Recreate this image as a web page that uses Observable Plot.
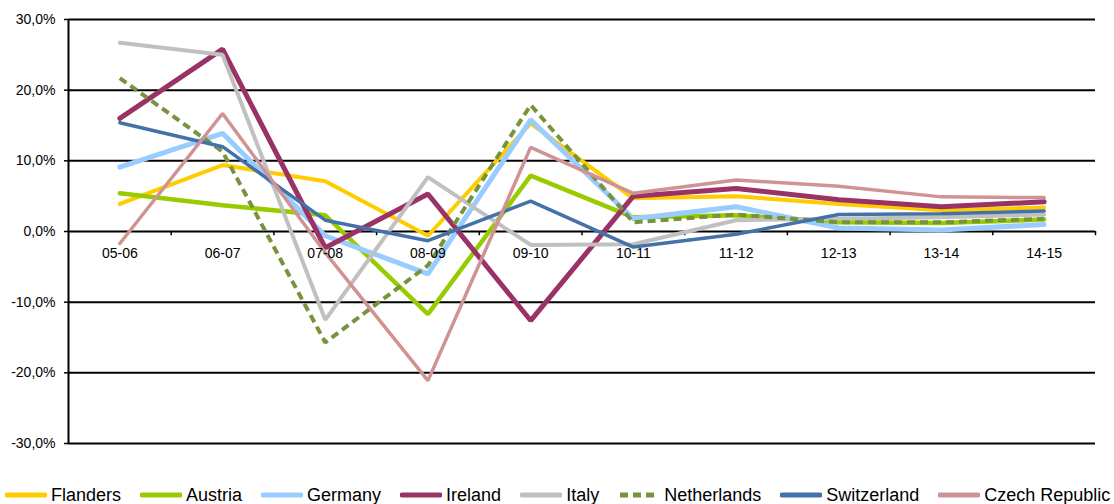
<!DOCTYPE html>
<html><head><meta charset="utf-8">
<script src="https://cdn.jsdelivr.net/npm/d3@7"></script>
<script src="https://cdn.jsdelivr.net/npm/@observablehq/plot@0.6"></script>
<style>
body{margin:0;background:#fff;font-family:Arial,"Liberation Sans",sans-serif;}
#chart{position:relative;width:1114px;height:504px;overflow:hidden;background:#fff;}
#chart svg text{font-size:14px;font-family:Arial,"Liberation Sans",sans-serif;}
#legend{position:absolute;left:5px;top:485px;display:flex;align-items:center;font-size:18px;line-height:20px;white-space:nowrap;color:#000;}
.item{display:flex;align-items:center;margin-right:19px;}
.item svg{margin-right:4px;display:block;}
</style></head><body><div id="chart"></div>
<script>
const categories = ["05-06","06-07","07-08","08-09","09-10","10-11","11-12","12-13","13-14","14-15"];
const yTicks = [-30,-20,-10,0,10,20,30];
const seriesNames = ["Flanders","Austria","Germany","Ireland","Italy","Netherlands","Switzerland","Czech Republic"];
const flanders    = [3.9, 9.4, 7.1, -0.6, 15.3, 4.7, 5.0, 3.9, 3.0, 3.4];
const austria     = [5.4, 3.7, 2.3, -11.7, 7.9, 2.0, 2.3, 1.3, 1.2, 1.7];
const germany     = [9.1, 13.9, -0.6, -6.0, 15.8, 1.8, 3.5, 0.5, 0.2, 1.0];
const ireland     = [16.0, 25.8, -2.3, 5.3, -12.6, 5.0, 6.1, 4.5, 3.5, 4.2];
const italy       = [26.7, 25.0, -12.5, 7.7, -1.9, -1.8, 1.6, 1.8, 2.0, 2.4];
const netherlands = [21.7, 11.3, -15.7, -4.8, 17.9, 1.3, 2.4, 1.3, 1.3, 1.8];
const switzerland = [15.4, 12.0, 1.6, -1.3, 4.3, -2.2, -0.4, 2.4, 2.5, 2.9];
const czech       = [-1.7, 16.7, -3.0, -21.1, 11.9, 5.4, 7.3, 6.4, 4.9, 4.8];

const seriesValues = [flanders, austria, germany, ireland, italy, netherlands, switzerland, czech];
const styles = [
  {stroke:"#FFCC00", width:4},
  {stroke:"#99CC00", width:4.5},
  {stroke:"#99CCFF", width:5},
  {stroke:"#993366", width:5},
  {stroke:"#C0C0C0", width:4},
  {stroke:"#77933C", width:4, dash:"8,5"},
  {stroke:"#4472A8", width:3.5},
  {stroke:"#D09393", width:3.5}
];

const W = 1114, H = 484, ML = 68, MR = 19, MT = 19, MB = H - 443;
const step = (W - ML - MR) / categories.length;
const fmt = d => d.toFixed(1).replace(".", ",") + "%";

const lineMarks = seriesValues.map((vals, k) => Plot.line(vals, {
  x: (d, i) => categories[i],
  y: d => d,
  stroke: styles[k].stroke,
  strokeWidth: styles[k].width,
  strokeDasharray: styles[k].dash,
  strokeLinecap: styles[k].dash ? "butt" : "round",
  strokeLinejoin: "miter"
}));

const chart = Plot.plot({
  width: W, height: H,
  marginLeft: ML, marginRight: MR, marginTop: MT, marginBottom: MB,
  style: {fontFamily: 'Arial, "Liberation Sans", sans-serif', fontSize: "14px", color: "#000", background: "#fff"},
  x: {type: "point", domain: categories, padding: 0.5, round: false, axis: null},
  y: {domain: [-30, 30], axis: null},
  marks: [
    Plot.ruleY(yTicks, {stroke: "#000", strokeWidth: 2}),
    Plot.ruleX([categories[0]], {dx: -step / 2, stroke: "#000", strokeWidth: 2}),
    Plot.ruleX(categories, {x: d => d, dx: step / 2, y1: 0, y2: -0.6, stroke: "#000", strokeWidth: 1.5}),
    Plot.axisY({ticks: yTicks, tickSize: 4, tickPadding: 9, tickFormat: fmt, fontSize: 14, strokeWidth: 1.5}),
    ...lineMarks,
    Plot.text(categories, {x: d => d, y: 0, dy: 22, fontSize: 14, fill: "#000"})
  ]
});

const root = document.getElementById("chart");
root.appendChild(chart);

const legend = document.createElement("div");
legend.id = "legend";
seriesNames.forEach((name, k) => {
  const item = document.createElement("div");
  item.className = "item";
  const s = styles[k];
  item.innerHTML = `<svg width="42" height="8"><line x1="2" y1="4" x2="40" y2="4" stroke="${s.stroke}" stroke-width="5" stroke-linecap="${s.dash ? "butt" : "round"}" ${s.dash ? `stroke-dasharray="8,5"` : ""}/></svg><span>${name}</span>`;
  legend.appendChild(item);
});
root.appendChild(legend);
</script>
</body></html>
